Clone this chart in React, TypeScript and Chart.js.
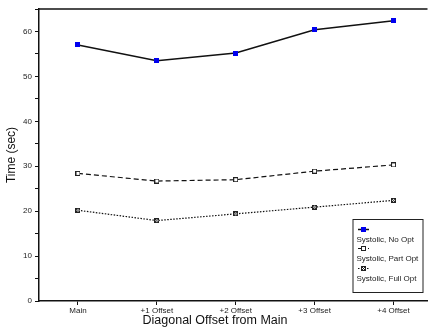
import React, { useEffect, useRef } from 'react';
import { Chart, registerables } from 'chart.js';

Chart.register(...registerables);

const categories = ['Main', '+1 Offset', '+2 Offset', '+3 Offset', '+4 Offset'];
const noOpt = [57.0, 53.5, 55.2, 60.4, 62.4];
const partOpt = [28.4, 26.7, 27.0, 28.9, 30.3];
const fullOpt = [20.2, 17.9, 19.4, 20.9, 22.4];
const seriesLabels = ['Systolic, No Opt', 'Systolic, Part Opt', 'Systolic, Full Opt'];
const yAxisTitle = 'Time (sec)';
const xAxisTitle = 'Diagonal Offset from Main';
const yMin = 0;
const yMax = 65;
const yStep = 5;

const FONT = '"Liberation Sans", Arial, sans-serif';

function makeMarker(kind: string): HTMLCanvasElement {
  const c = document.createElement('canvas');
  c.width = 5;
  c.height = 5;
  const g = c.getContext('2d')!;
  if (kind === 'blue') {
    g.fillStyle = '#0000ee';
    g.fillRect(0, 0, 5, 5);
  } else if (kind === 'open') {
    g.fillStyle = '#ffffff';
    g.fillRect(0, 0, 5, 5);
    g.strokeStyle = '#222';
    g.lineWidth = 1;
    g.strokeRect(0.5, 0.5, 4, 4);
  } else {
    g.fillStyle = '#ffffff';
    g.fillRect(0, 0, 5, 5);
    g.strokeStyle = '#222';
    g.lineWidth = 1;
    g.strokeRect(0.5, 0.5, 4, 4);
    g.beginPath();
    g.moveTo(0.5, 0.5);
    g.lineTo(4.5, 4.5);
    g.moveTo(4.5, 0.5);
    g.lineTo(0.5, 4.5);
    g.stroke();
  }
  return c;
}

export default function App() {
  const ref = useRef<HTMLCanvasElement | null>(null);

  useEffect(() => {
    if (!ref.current) return;
    const markers = [makeMarker('blue'), makeMarker('open'), makeMarker('cross')];
    const dashes = [[], [5, 3], [1.5, 1.5]];
    const legendDashes = [[], [3, 2], [1.5, 1.5]];
    const widths = [1.5, 1.2, 1.2];
    const series = [noOpt, partOpt, fullOpt];

    const decor = {
      id: 'decor',
      afterDraw(chart: any) {
        const { ctx, chartArea } = chart;
        ctx.save();
        // top border
        ctx.strokeStyle = '#111';
        ctx.lineWidth = 1.5;
        ctx.beginPath();
        ctx.moveTo(chartArea.left, chartArea.top);
        ctx.lineTo(chartArea.right, chartArea.top);
        ctx.stroke();

        // axis titles
        ctx.fillStyle = '#111';
        ctx.font = `12px ${FONT}`;
        ctx.textAlign = 'center';
        ctx.textBaseline = 'middle';
        ctx.save();
        ctx.translate(12, (chartArea.top + chartArea.bottom) / 2);
        ctx.rotate(-Math.PI / 2);
        ctx.fillText(yAxisTitle, 0, 0);
        ctx.restore();
        ctx.font = `12.5px ${FONT}`;
        ctx.fillText(xAxisTitle, 215, 321);

        // legend
        const bx = chartArea.right - 74.5;
        const by = chartArea.bottom - 81.5;
        const bw = 70;
        const bh = 73;
        ctx.fillStyle = '#fff';
        ctx.fillRect(bx, by, bw, bh);
        ctx.strokeStyle = '#222';
        ctx.lineWidth = 1;
        ctx.strokeRect(bx, by, bw, bh);
        ctx.font = `8px ${FONT}`;
        ctx.textAlign = 'left';
        ctx.textBaseline = 'middle';
        chart.data.datasets.forEach((ds: any, i: number) => {
          const sy = Math.round(by + 9.5 + i * 19.3) + 0.5;
          const sx0 = bx + 5;
          const sx1 = bx + 16;
          ctx.strokeStyle = '#111';
          ctx.lineWidth = widths[i];
          ctx.setLineDash(legendDashes[i]);
          ctx.beginPath();
          ctx.moveTo(sx0, sy);
          ctx.lineTo(sx1, sy);
          ctx.stroke();
          ctx.setLineDash([]);
          const m = markers[i];
          ctx.drawImage(m, Math.round((sx0 + sx1) / 2 - m.width / 2), Math.round(sy - m.height / 2));
          ctx.fillStyle = '#222';
          ctx.fillText(ds.label, bx + 3.5, sy + 9.8);
        });
        ctx.restore();
      },
    };

    const chart = new Chart(ref.current, {
      type: 'line',
      data: {
        datasets: series.map((vals, i) => ({
          label: seriesLabels[i],
          data: vals.map((v, k) => ({ x: k, y: v })),
          borderColor: '#111',
          borderWidth: widths[i],
          borderDash: dashes[i],
          pointStyle: markers[i] as any,
          pointRadius: 3,
          fill: false,
          tension: 0,
        })),
      },
      options: {
        responsive: false,
        animation: false,
        events: [],
        layout: { padding: { top: 9, right: 0, left: 0, bottom: 0 } },
        plugins: { legend: { display: false }, tooltip: { enabled: false } },
        scales: {
          x: {
            type: 'linear',
            min: -0.494,
            max: 4.431,
            afterBuildTicks: (axis: any) => {
              axis.ticks = categories.map((_, i) => ({ value: i }));
            },
            afterFit: (axis: any) => {
              axis.height = 32;
            },
            ticks: {
              callback: (v: any) => categories[v] ?? '',
              font: { family: FONT, size: 8 },
              color: '#222',
              padding: 1,
              maxRotation: 0,
              autoSkip: false,
            },
            grid: { drawOnChartArea: false, drawTicks: true, tickLength: 4, color: '#111', lineWidth: 1 },
            border: { color: '#111', width: 1.5 },
          },
          y: {
            type: 'linear',
            min: yMin,
            max: yMax,
            afterFit: (axis: any) => {
              axis.width = 39;
            },
            ticks: {
              stepSize: yStep,
              callback: (v: any) => (v % 10 === 0 ? String(v) : ''),
              font: { family: FONT, size: 8 },
              color: '#222',
              padding: 3,
            },
            grid: { drawOnChartArea: false, drawTicks: true, tickLength: 4, color: '#111', lineWidth: 1 },
            border: { color: '#111', width: 1.5 },
          },
        },
      },
      plugins: [decor],
    } as any);

    return () => chart.destroy();
  }, []);

  return (
    <div style={{ position: 'absolute', left: 0, top: 0, width: 433, height: 333, background: '#fff' }}>
      <canvas ref={ref} width={433} height={333} style={{ display: 'block', width: 433, height: 333 }} />
    </div>
  );
}
